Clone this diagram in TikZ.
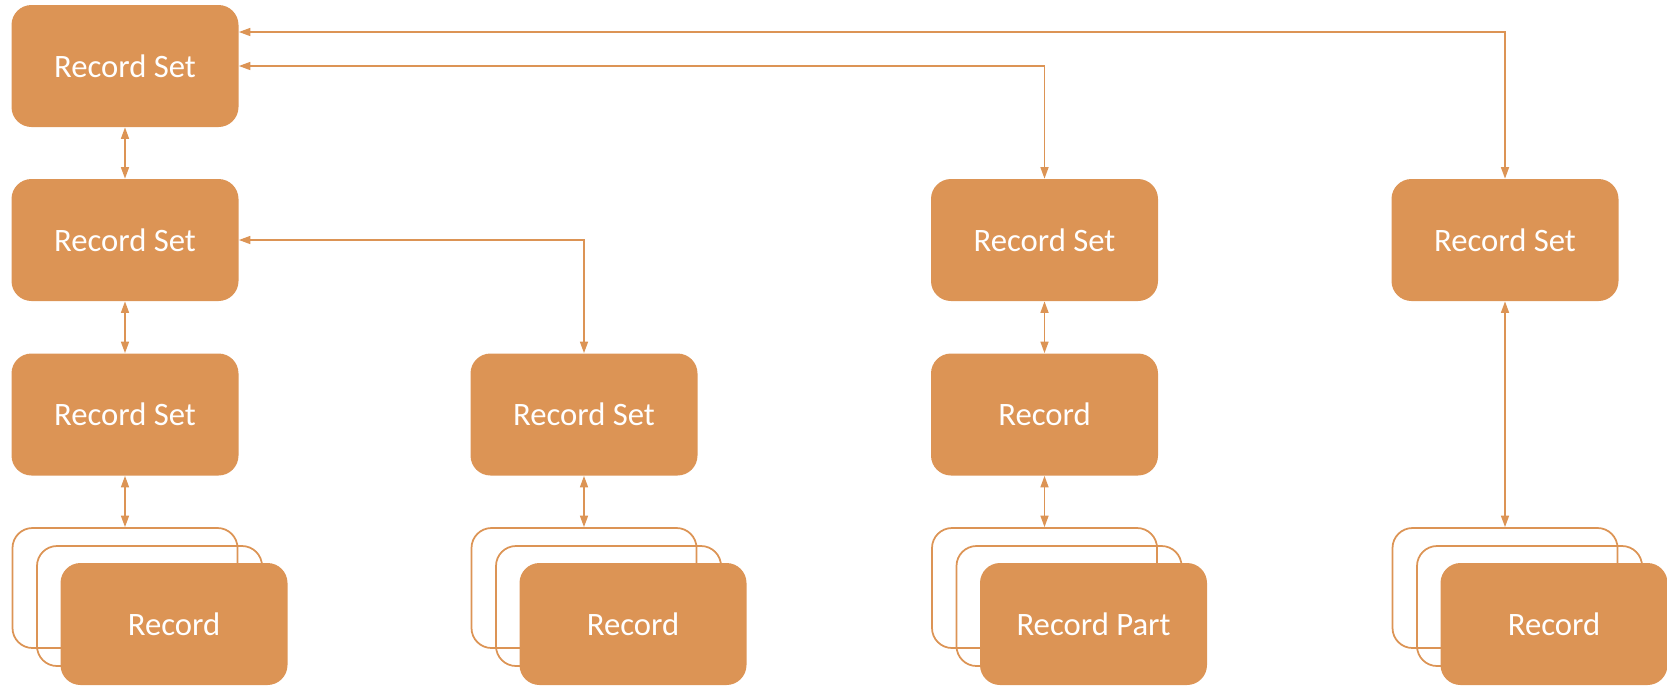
\documentclass[tikz,border=0pt]{standalone}
\usepackage{fontspec}
\setmainfont{Carlito}
\usetikzlibrary{arrows.meta, calc, positioning}
\definecolor{recorange}{HTML}{DC9455}
\tikzstyle{recset} = [rectangle, rounded corners=0.4cm, minimum width=4.54cm, minimum height=2.44cm, inner sep=0pt, text centered, fill=recorange, text=white, font=\fontsize{18.6}{22}\selectfont]
\tikzstyle{ghost} = [rectangle, rounded corners=0.4cm, minimum width=4.5cm, minimum height=2.4cm, inner sep=0pt, draw=recorange, line width=1pt]
\tikzstyle{link} = [draw, recorange, line width=0.9pt, <->, >={Triangle[width=4.5pt,length=6.5pt]}]

\begin{document}
\begin{tikzpicture}
  \useasboundingbox (0,0) rectangle (33.34,-13.7);

  % left column
  \node (set1) [recset, xshift=2.5cm, yshift=-1.32cm] {Record Set};
  \node (set2) [recset, xshift=2.5cm, yshift=-4.8cm] {Record Set};
  \path [link] (set1.south) -- (set2.north);
  \node (set3) [recset, xshift=2.5cm, yshift=-8.29cm] {Record Set};
  \path [link] (set2.south) -- (set3.north);
  \node (back1a) [ghost, xshift=2.5cm, yshift=-11.76cm] {};
  \node (back1b) [ghost, xshift=2.99cm, yshift=-12.12cm] {};
  \node (rec1) [recset, xshift=3.48cm, yshift=-12.48cm] {Record};
  \path [link] (set3.south) -- (back1a.north);

  % second column
  \node (set4) [recset, xshift=11.68cm, yshift=-8.29cm] {Record Set};
  \path [link] (set2.east) -| (set4.north);
  \node (back2a) [ghost, xshift=11.68cm, yshift=-11.76cm] {};
  \node (back2b) [ghost, xshift=12.17cm, yshift=-12.12cm] {};
  \node (rec2) [recset, xshift=12.66cm, yshift=-12.48cm] {Record};
  \path [link] (set4.south) -- (back2a.north);

  % third column
  \node (set5) [recset, xshift=20.89cm, yshift=-4.8cm] {Record Set};
  \path [link] (set1.east) -| (set5.north);
  \node (rec3) [recset, xshift=20.89cm, yshift=-8.29cm] {Record};
  \path [link] (set5.south) -- (rec3.north);
  \node (back3a) [ghost, xshift=20.89cm, yshift=-11.76cm] {};
  \node (back3b) [ghost, xshift=21.38cm, yshift=-12.12cm] {};
  \node (part3) [recset, xshift=21.87cm, yshift=-12.48cm] {Record Part};
  \path [link] (rec3.south) -- (back3a.north);

  % fourth column
  \node (set6) [recset, xshift=30.1cm, yshift=-4.8cm] {Record Set};
  \path [link] ($(set1.east)+(0,0.68)$) -| (set6.north);
  \node (back4a) [ghost, xshift=30.1cm, yshift=-11.76cm] {};
  \node (back4b) [ghost, xshift=30.59cm, yshift=-12.12cm] {};
  \node (rec4) [recset, xshift=31.08cm, yshift=-12.48cm] {Record};
  \path [link] (set6.south) -- (back4a.north);
\end{tikzpicture}
\end{document}
